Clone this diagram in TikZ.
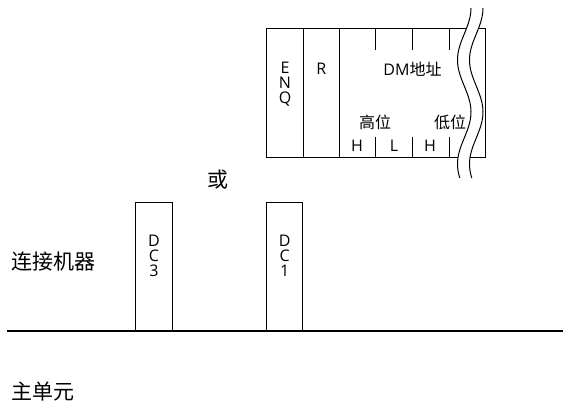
\documentclass[tikz,border=0pt]{standalone}
\usepackage{fontspec}
\setmainfont{Open Sans}
\newfontfamily\cjk{Noto Sans CJK SC}
\usetikzlibrary{positioning}
\tikzset{
    field/.style={font=\fontsize{16}{15}\selectfont, align=center, inner sep=0pt},
    cfield/.style={font=\cjk\fontsize{16}{18}\selectfont, inner sep=0pt},
    biglabel/.style={font=\cjk\fontsize{21}{24}\selectfont, inner sep=0pt},
    dcbox/.style={draw, line width=1pt, minimum width=36.5pt, minimum height=128pt, inner sep=0pt}
}

\begin{document}
\begin{tikzpicture}[x=1pt, y=-1pt, line width=1pt]
    \useasboundingbox (0,0) rectangle (563,403);

    \coordinate (F1) at (266.7, 29);
    \coordinate (F2) at (485, 158);
    \coordinate (B1) at (7, 331);
    \coordinate (B2) at (563, 331);

    \draw (F1) rectangle (F2);
    \draw (303.3, 29) -- (303.3, 158);
    \draw (339.3, 29) -- (339.3, 158);
    \foreach \x in {375.7, 412.3, 449} {
        \draw (\x, 29) -- (\x, 50);
        \draw (\x, 136.7) -- (\x, 158);
    }

    \node[field] (enq) at (285, 84) {E\\N\\Q};
    \node[field] (r) at (321.3, 69) {R};
    \node[field] (dm) at (412.5, 69) {DM{\cjk 地址}};
    \node[cfield] (hi) at (375, 122) {高位};
    \node[cfield] (lo) at (450, 122) {低位};
    \foreach \x/\t [count=\i] in {357/H, 394/L, 430/H, 467/L}
    \node[field] (b\i) at (\x, 146) {\t};

    \fill[white] plot[domain=8:178, samples=60] ({464.25-6.75*cos(3.4615*(\x-60))}, \x)
        -- plot[domain=178:8, samples=60] ({476.25-6.75*cos(3.4615*(\x-60))}, \x) -- cycle;
    \draw plot[domain=8:178, samples=60, smooth] ({464.25-6.75*cos(3.4615*(\x-60))}, \x);
    \draw plot[domain=8:178, samples=60, smooth] ({476.25-6.75*cos(3.4615*(\x-60))}, \x);

    \draw[line width=1.5pt] (B1) -- (B2);
    \node[dcbox, anchor=south] (dc3) at (154, 331) {};
    \node[dcbox, anchor=south] (dc1) at (284.7, 331) {};
    \node[field] (t3) at (154, 256) {D\\C\\3};
    \node[field] (t1) at (284.7, 256) {D\\C\\1};

    \node[biglabel] (or) at (218, 180) {或};
    \node[biglabel, anchor=west] (dev) at (11, 262) {连接机器};
    \node[biglabel, anchor=west] (host) at (11, 392) {主单元};
\end{tikzpicture}
\end{document}
